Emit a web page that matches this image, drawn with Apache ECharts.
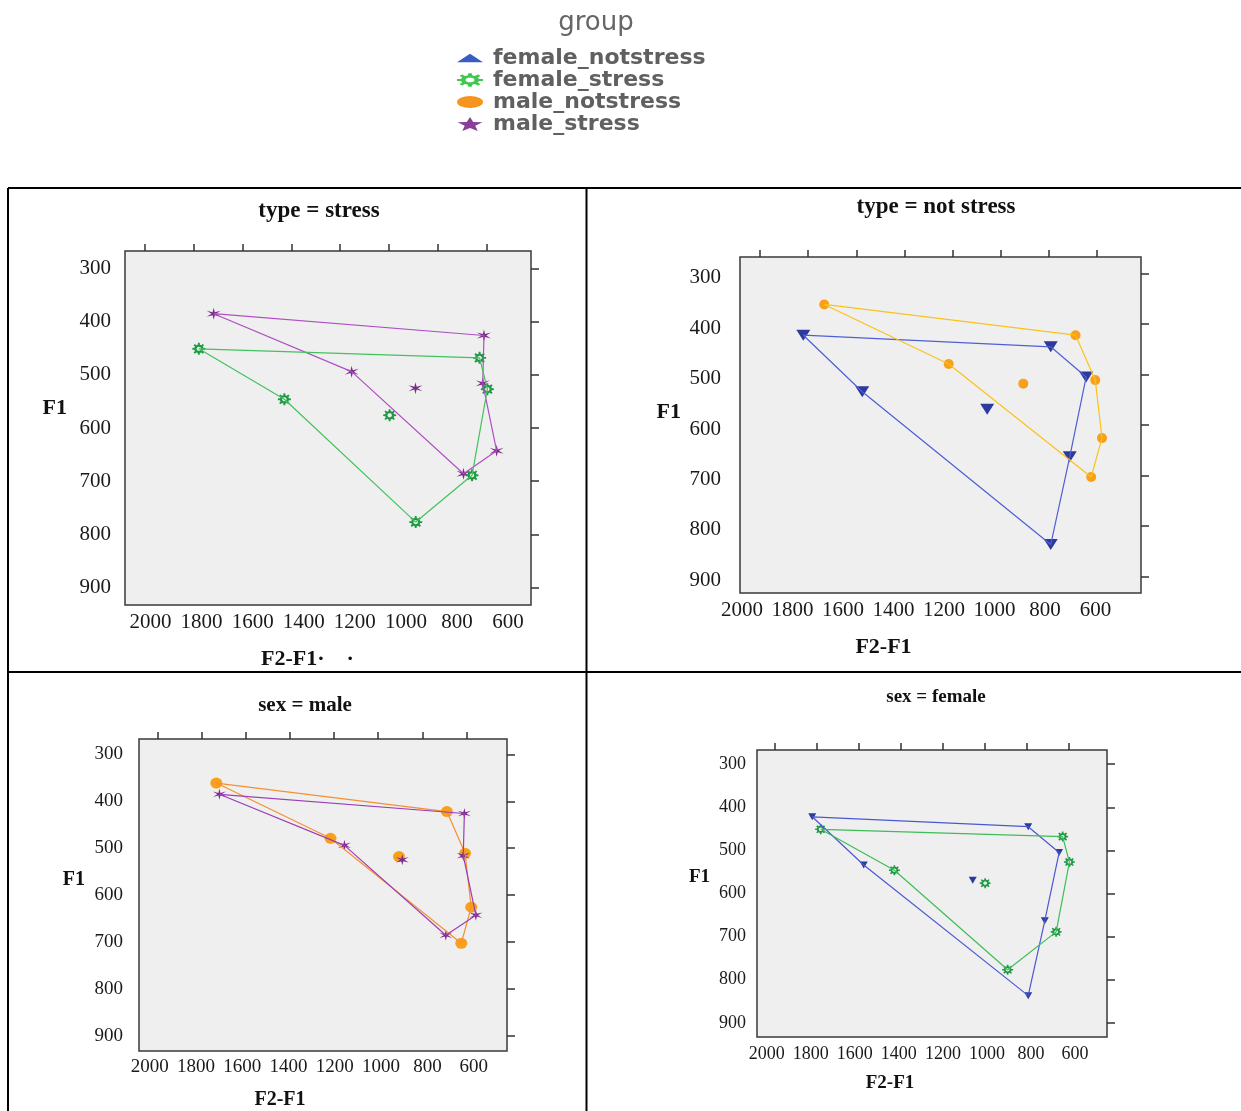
<!DOCTYPE html>
<html><head><meta charset="utf-8">
<script src="https://cdn.jsdelivr.net/npm/echarts@6/dist/echarts.min.js"></script>
<style>html,body{margin:0;padding:0;background:#fff}#c{width:1241px;height:1111px}</style>
</head><body><div id="c"></div>
<script>
// ---- data (F2-F1 in Hz, F1 in Hz). First six points = polygon corners in drawing order, last = central vowel
const groupNames = ['female_notstress', 'female_stress', 'male_notstress', 'male_stress'];
const femaleNotstressF2F1 = [1820, 792, 645, 713, 792, 1575, 1056];
const femaleNotstressF1   = [422, 445, 505, 663, 837, 534, 569];
const femaleStressF2F1    = [1780, 628, 596, 659, 890, 1429, 997];
const femaleStressF1      = [451, 468, 527, 689, 777, 546, 576];
const maleNotstressF2F1   = [1733, 689, 607, 579, 624, 1216, 906];
const maleNotstressF1     = [361, 422, 511, 626, 703, 479, 518];
const maleStressF2F1      = [1719, 610, 615, 558, 694, 1153, 891];
const maleStressF1        = [385, 426, 516, 643, 686, 494, 525];
const polygonOrder = [0, 1, 2, 3, 4, 5, 0];
const xTickValues = [2000, 1800, 1600, 1400, 1200, 1000, 800, 600];
const yTickValues = [300, 400, 500, 600, 700, 800, 900];
const panelTitles = ['type = stress', 'type = not stress', 'sex = male', 'sex = female'];
const panelGroups = [
  ['male_stress', 'female_stress'],
  ['female_notstress', 'male_notstress'],
  ['male_notstress', 'male_stress'],
  ['female_notstress', 'female_stress']
];

const groupData = {
  female_notstress: [femaleNotstressF2F1, femaleNotstressF1],
  female_stress: [femaleStressF2F1, femaleStressF1],
  male_notstress: [maleNotstressF2F1, maleNotstressF1],
  male_stress: [maleStressF2F1, maleStressF1]
};
function points(g) { const [xs, ys] = groupData[g]; return xs.map((x, i) => [x, ys[i]]); }
function ring(g) { const p = points(g); return polygonOrder.map(i => p[i]); }

// ---- symbol shapes
function starPath(n, rOut, rIn, sx) {
  let s = '';
  for (let i = 0; i < 2 * n; i++) {
    const r = i % 2 ? rIn : rOut;
    const a = -Math.PI / 2 + i * Math.PI / n;
    s += (i ? 'L' : 'M') + (50 + sx * r * 50 * Math.cos(a)).toFixed(2) + ' ' + (50 + r * 50 * Math.sin(a)).toFixed(2) + ' ';
  }
  return 'path://' + s + 'Z';
}
function gearPath(sx) {
  const pts = [];
  const teeth = 8, rO = 1, rI = 0.7;
  for (let i = 0; i < teeth; i++) {
    const a = i * 2 * Math.PI / teeth;
    const d1 = 13 * Math.PI / 180, d2 = 8 * Math.PI / 180;
    pts.push([rI, a - d1], [rO, a - d2], [rO, a + d2], [rI, a + d1]);
  }
  let s = '';
  pts.forEach((p, i) => {
    s += (i ? 'L' : 'M') + (50 + sx * p[0] * 50 * Math.cos(p[1])).toFixed(2) + ' ' + (50 + p[0] * 50 * Math.sin(p[1])).toFixed(2) + ' ';
  });
  s += 'Z ';
  const h = 0.34;
  for (let i = 0; i <= 16; i++) {
    const a = -i * 2 * Math.PI / 16;
    s += (i ? 'L' : 'M') + (50 + sx * h * 50 * Math.cos(a)).toFixed(2) + ' ' + (50 + h * 50 * Math.sin(a)).toFixed(2) + ' ';
  }
  return 'path://' + s + 'Z';
}
const asterisk = starPath(6, 1, 0.28, 1);
const gear = gearPath(1);

const markerStyle = {
  female_notstress: { symbol: 'triangle', rotate: 180, color: '#2d3a9c' },
  female_stress: { symbol: gear, rotate: 0, color: '#1e9a45' },
  male_notstress: { symbol: 'circle', rotate: 0, color: '#f9a01b' },
  male_stress: { symbol: asterisk, rotate: 0, color: '#7e2c8c' }
};

const layout = [
  { tx: 319, ty: 211, tfs: 23, grid: { left: 125, top: 251, width: 406, height: 354 }, lx: [510, 2100], fs: 21, xm: 7, ym: 14, ylLH: 0,
    xName: 'F2-F1·    ·', xnGap: 43, xnPad: 41, nfs: 22, ynGap: 58, ynLH: 40,
    lineColor: { male_stress: '#b04ec4', female_stress: '#42c25c' }, size: { male_stress: [14, 12], female_stress: [13, 12] } },
  { tx: 936, ty: 207, tfs: 23, grid: { left: 740, top: 257, width: 401, height: 336 }, lx: [420, 2008], fs: 21, xm: 7, ym: 19, ylLH: 8,
    xName: 'F2-F1', xnGap: 43, xnPad: 114, nfs: 22, ynGap: 59, ynLH: 26,
    lineColor: { female_notstress: '#4d5fd6', male_notstress: '#fbc21a' }, size: { female_notstress: [14, 11], male_notstress: [10, 10] } },
  { tx: 305, ty: 706, tfs: 21, grid: { left: 139, top: 739, width: 368, height: 313 }, lx: [456, 2046], fs: 19, xm: 7, ym: 16, ylLH: 0,
    xName: 'F2-F1', xnGap: 39, xnPad: 86, nfs: 20, ynGap: 54, ynLH: 30,
    lineColor: { male_notstress: '#f59030', male_stress: '#9b3fb5' }, size: { male_notstress: [12, 11], male_stress: [13, 11] } },
  { tx: 936, ty: 697, tfs: 19, grid: { left: 757, top: 750, width: 350, height: 287 }, lx: [455, 2044], fs: 18, xm: 8, ym: 11, ylLH: 0,
    xName: 'F2-F1', xnGap: 37, xnPad: 84, nfs: 19, ynGap: 47, ynLH: 32,
    lineColor: { female_notstress: '#4a58d0', female_stress: '#3ebd58' }, size: { female_notstress: [8, 7], female_stress: [11, 10] } }
];

const serif = 'Liberation Serif';
const plain = v => String(v);
const titles = [{
  text: 'group', left: 596, top: 23, textAlign: 'center', textVerticalAlign: 'middle', padding: 0,
  textStyle: { fontFamily: 'DejaVu Sans', fontSize: 26, fontWeight: 'normal', color: '#666' }
}];
const grids = [], xAxes = [], yAxes = [], series = [];
layout.forEach((L, i) => {
  titles.push({ text: panelTitles[i], left: L.tx, top: L.ty, textAlign: 'center', textVerticalAlign: 'middle', padding: 0,
    textStyle: { fontFamily: serif, fontSize: L.tfs, fontWeight: 'bold', color: '#111' } });
  grids.push(Object.assign({ show: true, backgroundColor: '#efefef', borderColor: '#3a3a3a', borderWidth: 1.5 }, L.grid));
  const tickStyle = { color: '#333', width: 1.5 };
  xAxes.push({ gridIndex: i, type: 'value', position: 'top', min: 417, max: 2083, inverse: true,
    axisLine: { show: false }, axisTick: { show: true, customValues: xTickValues, length: 7, lineStyle: tickStyle },
    axisLabel: { show: false }, splitLine: { show: false } });
  xAxes.push({ gridIndex: i, type: 'value', position: 'bottom', min: L.lx[0], max: L.lx[1], inverse: true,
    axisLine: { show: false }, axisTick: { show: false }, splitLine: { show: false },
    axisLabel: { customValues: xTickValues, formatter: plain, fontFamily: serif, fontSize: L.fs, color: '#1a1a1a', margin: L.xm },
    name: L.xName, nameLocation: 'middle', nameGap: L.xnGap,
    nameTextStyle: { fontFamily: serif, fontWeight: 'bold', fontSize: L.nfs, color: '#111', padding: [0, L.xnPad, 0, 0] } });
  yAxes.push({ gridIndex: i, type: 'value', position: 'right', min: 267, max: 933, inverse: true,
    axisLine: { show: false }, axisTick: { show: true, customValues: yTickValues, length: 8, lineStyle: tickStyle },
    axisLabel: { show: false }, splitLine: { show: false } });
  const yLabel = { customValues: yTickValues, formatter: plain, fontFamily: serif, fontSize: L.fs, color: '#1a1a1a', margin: L.ym };
  if (L.ylLH) { yLabel.verticalAlign = 'top'; yLabel.lineHeight = L.ylLH; }
  yAxes.push({ gridIndex: i, type: 'value', position: 'left', min: 267, max: 933, inverse: true,
    axisLine: { show: false }, axisTick: { show: false }, splitLine: { show: false },
    axisLabel: yLabel,
    name: 'F1', nameLocation: 'middle', nameRotate: 0, nameGap: L.ynGap,
    nameTextStyle: { fontFamily: serif, fontWeight: 'bold', fontSize: L.nfs, color: '#111', verticalAlign: 'bottom', lineHeight: L.ynLH } });
  panelGroups[i].forEach(g => {
    const m = markerStyle[g];
    series.push({ name: g, type: 'line', xAxisIndex: 2 * i, yAxisIndex: 2 * i, data: ring(g), symbol: 'none',
      lineStyle: { color: L.lineColor[g], width: 1.2 }, itemStyle: { color: m.color }, silent: true, animation: false });
    series.push({ name: g, type: 'scatter', xAxisIndex: 2 * i, yAxisIndex: 2 * i, data: points(g),
      symbol: m.symbol, symbolRotate: m.rotate, symbolSize: L.size[g], itemStyle: { color: m.color, opacity: 1 }, animation: false });
  });
});

const legendIcons = {
  female_notstress: { icon: 'path://M0,8 L12.5,0 L25,8 Z', color: '#3a5cc0' },
  female_stress: { icon: gearPath(1.9), color: '#3ec84e' },
  male_notstress: { icon: 'path://M0,5.5 A12,5.5 0 1,1 24,5.5 A12,5.5 0 1,1 0,5.5 Z', color: '#f7941d' },
  male_stress: { icon: starPath(5, 1, 0.42, 1.7), color: '#8a3d99' }
};

const option = {
  backgroundColor: '#ffffff',
  animation: false,
  title: titles,
  legend: {
    orient: 'vertical', left: 452, top: 42, itemWidth: 26, itemHeight: 14, itemGap: 0, symbolKeepAspect: true,
    data: groupNames.map(g => ({ name: g, icon: legendIcons[g].icon, itemStyle: { color: legendIcons[g].color } })),
    textStyle: { fontFamily: 'DejaVu Sans', fontWeight: 'bold', fontSize: 22, color: '#606060', lineHeight: 18, padding: [0, 0, 0, 5] }
  },
  grid: grids, xAxis: xAxes, yAxis: yAxes, series: series,
  graphic: [
    { type: 'line', shape: { x1: 8, y1: 188, x2: 1241, y2: 188 }, style: { stroke: '#000', lineWidth: 2 } },
    { type: 'line', shape: { x1: 8, y1: 672, x2: 1241, y2: 672 }, style: { stroke: '#000', lineWidth: 2 } },
    { type: 'line', shape: { x1: 8, y1: 188, x2: 8, y2: 1111 }, style: { stroke: '#000', lineWidth: 2 } },
    { type: 'line', shape: { x1: 586.5, y1: 188, x2: 586.5, y2: 1111 }, style: { stroke: '#000', lineWidth: 2 } }
  ]
};
const chart = echarts.init(document.getElementById('c'), null, { renderer: 'canvas' });
chart.setOption(option);
</script></body></html>
